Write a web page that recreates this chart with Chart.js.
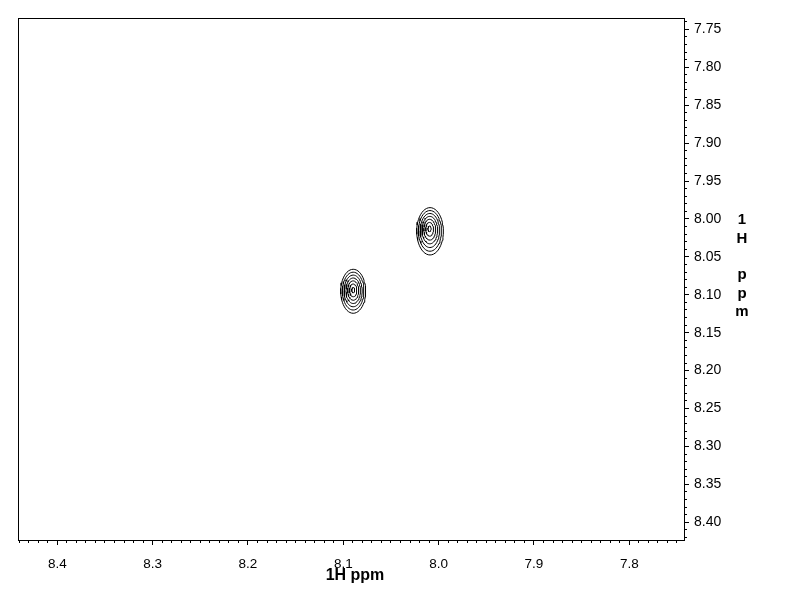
<!DOCTYPE html>
<html>
<head>
<meta charset="utf-8">
<script src="https://cdn.jsdelivr.net/npm/chart.js@4"></script>
<style>
  body { margin: 0; background: #fff; }
  canvas { display: block; }
</style>
</head>
<body>
<canvas id="grafico" width="792" height="612"></canvas>
<script>
const ticksX = [8.4, 8.3, 8.2, 8.1, 8.0, 7.9, 7.8];
const ticksY = [7.75, 7.80, 7.85, 7.90, 7.95, 8.00, 8.05, 8.10, 8.15, 8.20, 8.25, 8.30, 8.35, 8.40];
const rangoX = [7.7426, 8.4412];
const rangoY = [7.7351, 8.4233];
const tituloX = '1H ppm';
const tituloY = ['1', 'H', '', 'p', 'p', 'm'];

// Picos de cruce: centro del contorno exterior y semiejes (ppm)
const picoX = [8.0090, 8.0896];
const picoY = [8.0163, 8.0954];
const semiX = [0.0140, 0.0131];
const semiY = [0.0312, 0.0290];
// corrimiento del centro del contorno mas interno respecto al exterior
const corrX = [0.0006, 0.0000];
const corrY = [-0.0037, -0.0017];
// niveles de contorno (fraccion del contorno exterior)
const niveles = [1, 0.86, 0.72, 0.58, 0.44, 0.29, 0.12];

const fuente = '"Liberation Sans", Arial, sans-serif';

function contorno(p, f) {
    const cx = picoX[p] + (1 - f) * corrX[p];
    const cy = picoY[p] + (1 - f) * corrY[p];
    const puntos = [];
    for (let i = 0; i <= 48; i++) {
        const a = i / 48 * 2 * Math.PI;
        puntos.push({ x: cx + semiX[p] * f * Math.cos(a), y: cy + semiY[p] * f * Math.sin(a) });
    }
    return puntos;
}

const datasets = [];
picoX.forEach((_, p) => {
    niveles.forEach((f) => {
        datasets.push({
            data: contorno(p, f),
            showLine: true,
            borderColor: '#000',
            borderWidth: 1,
            pointRadius: 0,
            tension: 0,
            xAxisID: 'x',
            yAxisID: 'y'
        });
    });
});

// marco del espectro y titulos de los ejes
const marco = {
    id: 'marco',
    afterDraw(chart) {
        const { ctx, chartArea: a } = chart;
        ctx.save();
        ctx.strokeStyle = '#000';
        ctx.lineWidth = 1;
        ctx.strokeRect(a.left + 0.5, a.top + 0.5, a.right - a.left, a.bottom - a.top);
        ctx.fillStyle = '#000';
        ctx.textAlign = 'center';
        ctx.textBaseline = 'alphabetic';
        ctx.font = 'bold 16px ' + fuente;
        ctx.fillText(tituloX, (a.left + a.right) / 2 + 4, a.bottom + 40);
        ctx.font = 'bold 15px ' + fuente;
        tituloY.forEach((c, i) => ctx.fillText(c, a.right + 58, 224.3 + i * 18.3));
        ctx.restore();
    }
};

const menor = (pos) => ({
    type: 'linear',
    position: pos,
    weight: 0,
    reverse: true,
    min: pos === 'bottom' ? rangoX[0] : rangoY[0],
    max: pos === 'bottom' ? rangoX[1] : rangoY[1],
    ticks: { display: false, stepSize: 0.01, includeBounds: false },
    grid: { drawOnChartArea: false, tickLength: 3, color: '#000', tickColor: '#000' },
    border: { display: false },
    afterFit: (s) => { if (pos === 'bottom') s.height = 0; else s.width = 0; }
});

new Chart(document.getElementById('grafico'), {
    type: 'scatter',
    data: { datasets },
    plugins: [marco],
    options: {
        responsive: false,
        animation: false,
        layout: { padding: { left: 18, top: 18, right: 8, bottom: 12 } },
        plugins: { legend: { display: false }, tooltip: { enabled: false } },
        scales: {
            xm: menor('bottom'),
            ym: menor('right'),
            x: {
                type: 'linear',
                position: 'bottom',
                weight: 1,
                reverse: true,
                min: rangoX[0],
                max: rangoX[1],
                afterBuildTicks: (s) => { s.ticks = ticksX.map((v) => ({ value: v })); },
                ticks: {
                    callback: (v) => v.toFixed(1),
                    color: '#000',
                    font: { family: fuente, size: 13.5 },
                    padding: 11.2,
                    maxRotation: 0,
                    autoSkip: false
                },
                grid: { drawOnChartArea: false, tickLength: 5, color: '#000', tickColor: '#000' },
                border: { display: false },
                afterFit: (s) => { s.height = 60; }
            },
            y: {
                type: 'linear',
                position: 'right',
                weight: 1,
                reverse: true,
                min: rangoY[0],
                max: rangoY[1],
                afterBuildTicks: (s) => { s.ticks = ticksY.map((v) => ({ value: v })); },
                ticks: {
                    callback: (v) => v.toFixed(2),
                    color: '#000',
                    font: { family: fuente, size: 14 },
                    padding: 5,
                    autoSkip: false
                },
                grid: { drawOnChartArea: false, tickLength: 5, color: '#000', tickColor: '#000' },
                border: { display: false },
                afterFit: (s) => { s.width = 100; }
            }
        }
    }
});
</script>
</body>
</html>
